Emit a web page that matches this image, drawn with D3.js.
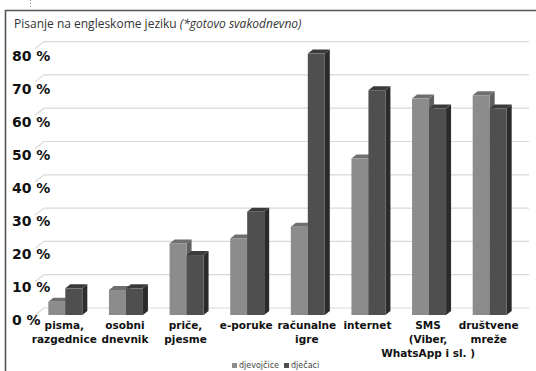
<!DOCTYPE html>
<html>
<head>
<meta charset="utf-8">
<script src="https://cdn.jsdelivr.net/npm/d3@7/dist/d3.min.js"></script>
<style>
  html, body { margin: 0; padding: 0; background: #fff; }
  svg { display: block; }
</style>
</head>
<body>
<svg id="chart" width="536" height="371"></svg>
<script>
// Share of pupils writing in English (almost daily), by activity
const categories = [
  ["pisma,", "razgednice"],
  ["osobni", "dnevnik"],
  ["priče,", "pjesme"],
  ["e-poruke"],
  ["računalne", "igre"],
  ["internet"],
  ["SMS", "(Viber,", "WhatsApp i sl. )"],
  ["društvene", "mreže"]
];
const girls = [4, 7.5, 21.5, 23, 26.5, 47, 65, 66];   // djevojčice
const boys  = [8, 8, 18, 31, 78.5, 67.5, 62, 62];     // dječaci
const yTicks = [0, 10, 20, 30, 40, 50, 60, 70, 80];
const seriesNames = ["djevojčice", "dječaci"];

const svg = d3.select("#chart");
const W = 536, H = 371;

// 3D geometry: wall depth and bar depth offsets
const wallDx = 9, wallDy = -7;
const barDx = 5, barDy = -4;

const keys = categories.map((c, i) => i);
const x0 = d3.scaleBand().domain(keys).range([35, 520]).paddingInner(0).paddingOuter(0);
const x1 = d3.scaleBand().domain([0, 1]).range([0, 34]);
const yFront = d3.scaleLinear().domain([0, 80]).range([315, 48.6]);
const yBack = v => yFront(v) + wallDy;
const yLabel = d3.scaleLinear().domain([0, 80]).range([320, 56]);

// Frame
svg.append("path")
  .attr("d", `M5.5,${H} L5.5,10.5 L${W},10.5`)
  .attr("fill", "none").attr("stroke", "#555").attr("stroke-width", 1.6);
svg.append("line")
  .attr("x1", 30.5).attr("x2", 30.5).attr("y1", 0).attr("y2", 9)
  .attr("stroke", "#999").attr("stroke-dasharray", "1,2");

// Title
const title = svg.append("text")
  .attr("x", 14).attr("y", 28)
  .attr("font-family", "Open Sans, sans-serif")
  .attr("font-size", 12).attr("fill", "#333");
title.append("tspan").text("Pisanje na engleskome jeziku ");
title.append("tspan").attr("font-style", "italic").text("(*gotovo svakodnevno)");

// Gridlines on back wall and side wall
const grid = svg.append("g");
const xLeftFront = x0.range()[0];
const xRightBack = x0.range()[1] + wallDx;
yTicks.forEach(t => {
  grid.append("path")
    .attr("d", `M${xLeftFront},${yFront(t)} L${xLeftFront + wallDx},${yBack(t)} L${xRightBack},${yBack(t)}`)
    .attr("fill", "none").attr("stroke", "#d9d9d9").attr("stroke-width", 1.2);
});

// Y axis labels
svg.append("g").selectAll("text").data(yTicks).join("text")
  .attr("x", 12).attr("y", d => yLabel(d))
  .attr("dy", "0.35em")
  .attr("font-family", "DejaVu Sans, sans-serif")
  .attr("font-weight", "bold").attr("font-size", 14).attr("fill", "#111")
  .text(d => d + " %");

// Bars
const palette = [
  { front: "#8c8c8c", top: "#6f6f6f", side: "#5f5f5f" },
  { front: "#4f4f4f", top: "#3b3b3b", side: "#2b2b2b" }
];
const bars = svg.append("g");
keys.forEach(i => {
  [girls[i], boys[i]].forEach((v, s) => {
    const xl = x0(i) + (x0.bandwidth() - 34) / 2 + x1(s);
    const w = x1.bandwidth();
    const yt = yFront(v), yb = yFront(0);
    const c = palette[s];
    const g = bars.append("g");
    // side face
    g.append("path")
      .attr("d", `M${xl + w},${yt} L${xl + w + barDx},${yt + barDy} L${xl + w + barDx},${yb + barDy} L${xl + w},${yb} Z`)
      .attr("fill", c.side);
    // top face
    g.append("path")
      .attr("d", `M${xl},${yt} L${xl + barDx},${yt + barDy} L${xl + w + barDx},${yt + barDy} L${xl + w},${yt} Z`)
      .attr("fill", c.top);
    // front face
    g.append("rect")
      .attr("x", xl).attr("y", yt).attr("width", w).attr("height", yb - yt)
      .attr("fill", c.front);
  });
});

// Category labels
const catG = svg.append("g");
categories.forEach((lines, i) => {
  const t = catG.append("text")
    .attr("x", x0(i) + x0.bandwidth() / 2 - 1)
    .attr("y", 329)
    .attr("text-anchor", "middle")
    .attr("font-family", "DejaVu Sans, sans-serif")
    .attr("font-weight", "bold").attr("font-size", 10.5).attr("fill", "#111");
  lines.forEach((ln, k) => {
    t.append("tspan").attr("x", x0(i) + x0.bandwidth() / 2 - 1)
      .attr("dy", k === 0 ? 0 : 14).text(ln);
  });
});

// Legend
const legend = svg.append("g").attr("font-family", "DejaVu Sans, sans-serif")
  .attr("font-size", 8).attr("fill", "#444");
let lx = 232;
seriesNames.forEach((name, s) => {
  legend.append("rect").attr("x", lx).attr("y", 363).attr("width", 5).attr("height", 5)
    .attr("fill", palette[s].front);
  const t = legend.append("text").attr("x", lx + 7).attr("y", 368).text(name);
  lx += 7 + t.node().getComputedTextLength() + 5;
});
</script>
</body>
</html>
